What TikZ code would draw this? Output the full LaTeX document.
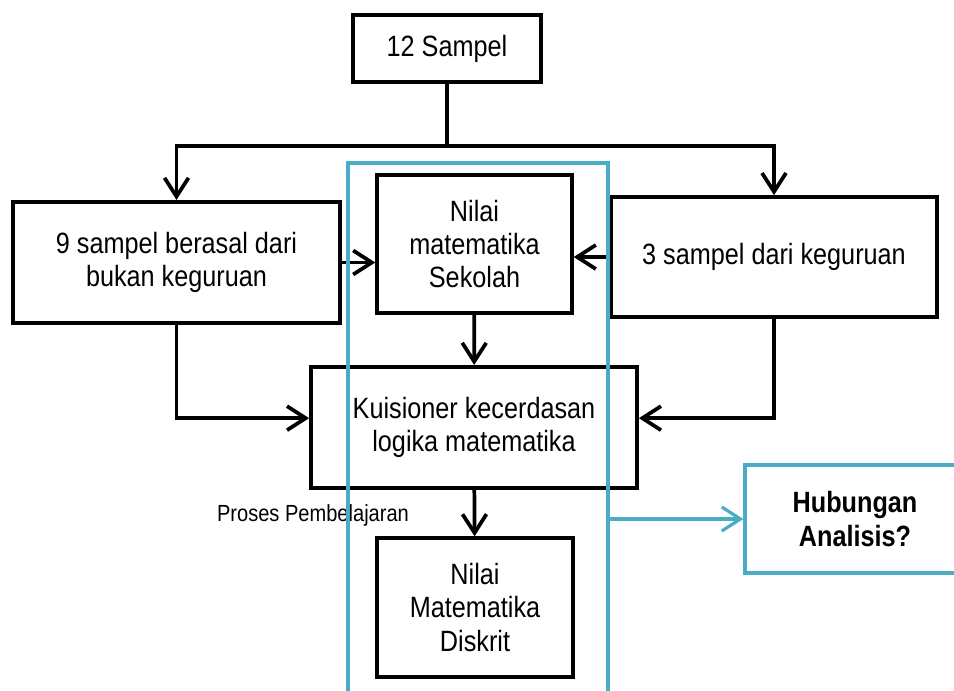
\documentclass[tikz,border=0pt]{standalone}
\usepackage{fontspec}
\setmainfont{Liberation Sans}[FakeStretch=0.86]
\usetikzlibrary{arrows.meta, positioning}
\definecolor{boxblue}{RGB}{75, 172, 198}

\begin{document}
\begin{tikzpicture}[
  x=0.75pt, y=-0.75pt,
  box/.style={draw=#1, line width=2.8pt, align=center, inner sep=2pt, font=\fontsize{22}{25}\selectfont},
  box/.default=black,
  arr/.style={-{Straight Barb[length=14pt, width=18pt]}, line width=2.8pt},
  barr/.style={-{Straight Barb[length=14pt, width=18pt]}, line width=2.4pt, draw=boxblue},
]
  \useasboundingbox (0,0) rectangle (954,691);

  % sampel
  \node[box, minimum width=141pt, minimum height=50pt] (sampel) at (447,48.5) {12 Sampel};
  \node[box, minimum width=245pt, minimum height=91pt] (bukan) at (176.5,262.5) {9 sampel berasal dari\\bukan keguruan};
  \node[box, minimum width=244.5pt, minimum height=90pt] (guru) at (774,257) {3 sampel dari keguruan};

  % nilai dan kuisioner
  \node[box, minimum width=146pt, minimum height=103.5pt] (sekolah) at (474.5,244) {Nilai\\matematika\\Sekolah};
  \node[box, minimum width=244.5pt, minimum height=91pt] (kuis) at (474,427.5) {Kuisioner kecerdasan\\logika matematika};
  \node[box, minimum width=147pt, minimum height=104pt] (diskrit) at (475,607.5) {Nilai\\Matematika\\Diskrit};

  \coordinate (cabang) at (447,146);
  \draw[line width=2.8pt] (sampel) -- (cabang);
  \draw[arr] (cabang) -| (bukan);
  \draw[arr] (cabang) -| (guru);
  \draw[arr] (bukan) -- (bukan -| sekolah.west);
  \draw[arr] (guru) -- (guru -| sekolah.east);
  \draw[arr] (sekolah) -- (kuis);
  \draw[arr] (bukan) |- ([yshift=7pt]kuis.west);
  \draw[arr] (guru) |- ([yshift=7pt]kuis.east);
  \draw[arr] (kuis) -- (diskrit);

  \node[font=\fontsize{17.5}{20}\selectfont, inner sep=0pt] (pbl) at (313,515) {Proses Pembelajaran};

  % analisis
  \node[box=boxblue, line width=2.4pt, minimum width=195pt, minimum height=406.5pt] (proses) at (478,434) {};
  \node[box=boxblue, line width=2.4pt, minimum width=165pt, minimum height=81pt, font=\bfseries\fontsize{22}{26}\selectfont] (hub) at (855,519) {Hubungan\\Analisis?};
  \draw[barr] (proses.east |- hub.west) -- (hub.west);
\end{tikzpicture}
\end{document}
